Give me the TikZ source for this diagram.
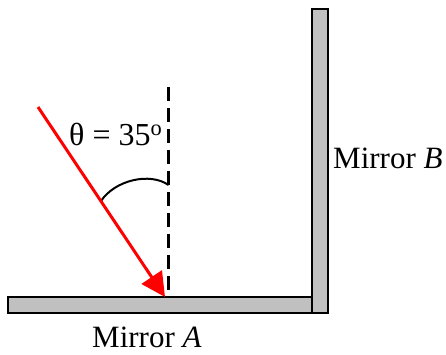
\documentclass[tikz,border=0pt]{standalone}
\usepackage{fontspec}
\setmainfont{Liberation Serif}
\usetikzlibrary{arrows.meta}
\definecolor{mirrorgray}{RGB}{192,192,192}
\tikzset{
  mirror/.style={draw=black, line width=2pt, fill=mirrorgray},
  lbl/.style={inner sep=0pt, anchor=base west, font=\fontsize{31}{37}\selectfont},
  normalline/.style={line width=3.5pt, dash pattern=on 14pt off 7pt},
  ray/.style={red, line width=3pt, -{Triangle[length=24pt,width=24pt]}},
  anglearc/.style={line width=2pt}
}
\begin{document}
\begin{tikzpicture}[x=1pt,y=-1pt]
\useasboundingbox (0,0) rectangle (446,354);
\draw[mirror] (8,297) rectangle (312,313);
\draw[mirror] (312,9) rectangle (328,313);
\coordinate (ntop) at (168.5,87);
\coordinate (hit) at (168.5,297);
\coordinate (src) at (38,107);
\coordinate (tip) at (165,297);
\coordinate (arcA) at (101,201);
\coordinate (arcB) at (168.5,185);
\draw[normalline] (ntop) -- (hit);
\draw[anglearc] (arcA) .. controls (115,180) and (150,172) .. (arcB);
\draw[ray] (src) -- (tip);
\node[lbl, font=\fontsize{32}{38}\selectfont] (theta) at (69,145) {θ = 35\textsuperscript{o}};
\node[lbl] (mb) at (333,168) {Mirror \textit{B}};
\node[lbl] (ma) at (92,347) {Mirror \textit{A}};
\end{tikzpicture}
\end{document}
